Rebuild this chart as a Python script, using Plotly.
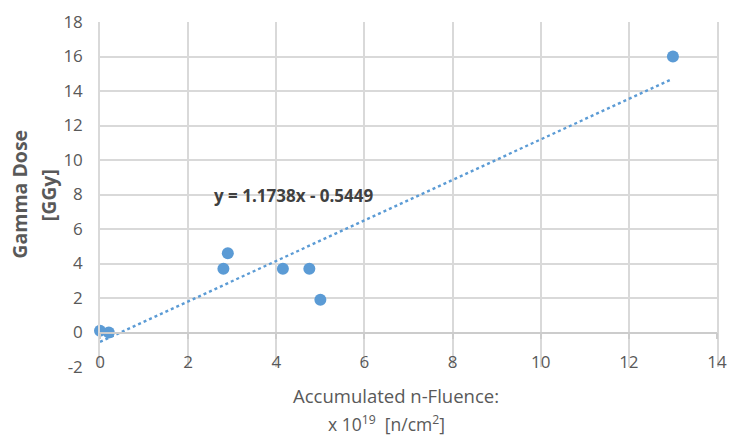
import plotly.graph_objects as go

fluence = [0.0, 0.2, 2.8, 2.9, 4.15, 4.75, 5.0, 13.0]
dose = [0.1, 0.0, 3.7, 4.6, 3.7, 3.7, 1.9, 16.0]
slope = 1.1738
intercept = -0.5449
trend_x = [0.0, 12.95]
trend_y = [slope * v + intercept for v in trend_x]
x_ticks = [0, 2, 4, 6, 8, 10, 12, 14]
y_ticks = [-2, 0, 2, 4, 6, 8, 10, 12, 14, 16, 18]
y_tick_labels = ["-2", "0", "2", "4", "6", "8", "10", "12", "14", "16", "18"]
equation = "y = 1.1738x - 0.5449"
x_title_1 = "Accumulated n-Fluence:"
x_title_2 = "x 10<sup>19</sup>  [n/cm<sup>2</sup>]"
y_title_1 = "Gamma Dose"
y_title_2 = "[GGy]"

BLUE = "#5b9bd5"
GRID = "#d9d9d9"
TXT = "#595959"
FONT = "Open Sans, sans-serif"

fig = go.Figure()
fig.add_trace(go.Scatter(x=trend_x, y=trend_y, mode="lines",
                         line=dict(color=BLUE, width=2.4, dash="dot"),
                         showlegend=False, hoverinfo="skip", cliponaxis=False))
fig.add_trace(go.Scatter(x=fluence, y=dose, mode="markers",
                         marker=dict(color=BLUE, size=12),
                         showlegend=False, cliponaxis=False))

fig.add_annotation(x=4.41, y=7.95, text="<b>" + equation + "</b>",
                   showarrow=False, font=dict(size=17, color="#404040", family=FONT))

# axis titles (placed as annotations because the x axis crosses at y=0)
fig.add_annotation(xref="paper", yref="paper", x=0.480, y=-0.083, text=x_title_1,
                   showarrow=False, font=dict(size=18.5, color=TXT, family=FONT),
                   xanchor="center", yanchor="middle")
fig.add_annotation(xref="paper", yref="paper", x=0.465, y=-0.165, text=x_title_2,
                   showarrow=False, font=dict(size=17.5, color=TXT, family=FONT),
                   xanchor="center", yanchor="middle")
fig.add_annotation(xref="paper", yref="paper", x=-0.1305, y=0.501, text="<b>" + y_title_1 + "</b>",
                   showarrow=False, textangle=-90, font=dict(size=19.5, color=TXT, family=FONT),
                   xanchor="center", yanchor="middle")
fig.add_annotation(xref="paper", yref="paper", x=-0.0835, y=0.499, text="<b>" + y_title_2 + "</b>",
                   showarrow=False, textangle=-90, font=dict(size=19.5, color=TXT, family=FONT),
                   xanchor="center", yanchor="middle")

fig.update_layout(
    width=729, height=439,
    margin=dict(l=100, r=12, t=22, b=72, autoexpand=False),
    paper_bgcolor="white", plot_bgcolor="white",
    font=dict(family=FONT, color=TXT, size=17),
    xaxis=dict(range=[0, 14], tickvals=x_ticks, showgrid=True,
               gridcolor=GRID, gridwidth=1.5, zeroline=False,
               anchor="free", position=0.1,
               showline=True, linecolor="#cccccc", linewidth=1.5,
               ticks="outside", ticklen=6, tickcolor="#cccccc", tickwidth=1.5,
               ticklabelstandoff=8,
               tickfont=dict(size=17, color=TXT)),
    yaxis=dict(range=[-2, 18], tickvals=y_ticks, ticktext=y_tick_labels, showgrid=True,
               gridcolor=GRID, gridwidth=1.5, zeroline=False,
               showline=True, linecolor=GRID, linewidth=1.5, mirror=True,
               ticks="", ticklabelstandoff=12,
               tickfont=dict(size=17, color=TXT)),
)
fig.write_html("out.html", config={"displayModeBar": False},
               post_script="document.body.style.margin='0';document.body.style.overflow='hidden';")
